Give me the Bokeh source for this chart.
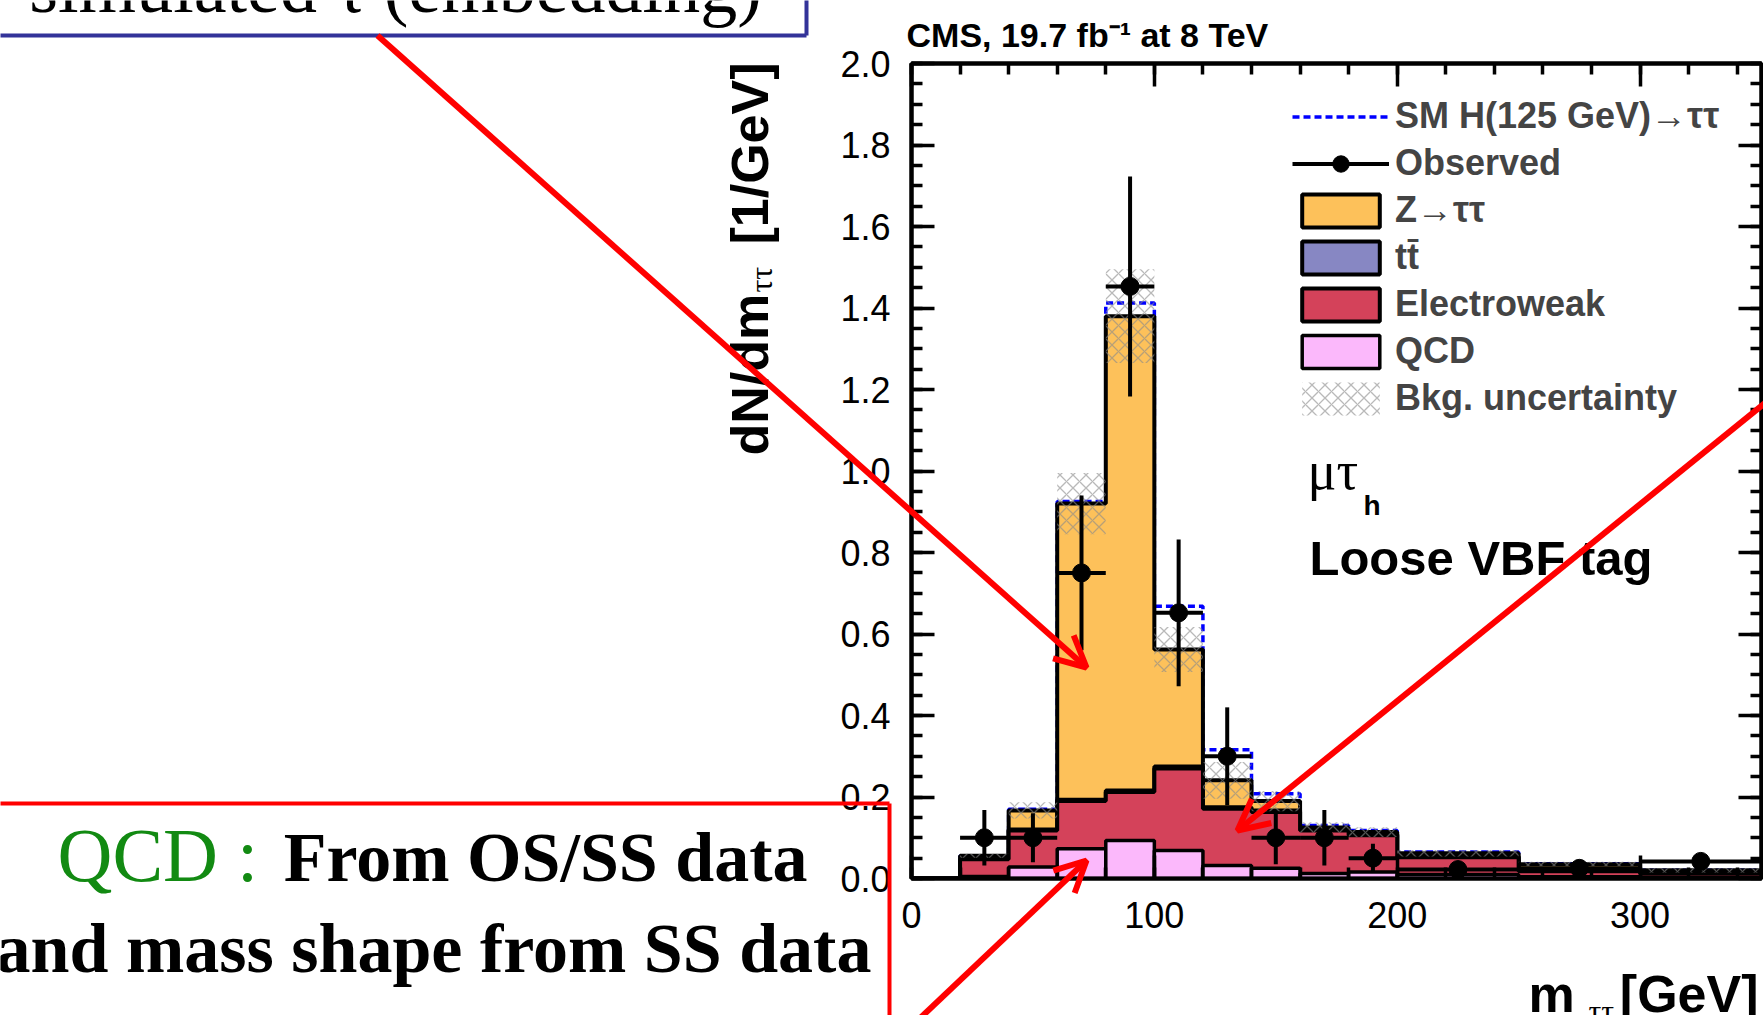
import numpy as np
from bokeh.plotting import figure
from bokeh.models import (Range1d, FixedTicker, LinearAxis, PrintfTickFormatter, Label,
                          Legend, LegendItem, CustomJSTickFormatter, Arrow, OpenHead)
from bokeh.embed import file_html
from bokeh.resources import INLINE

# ---------------- data ----------------
bin_edges = [0, 20, 40, 60, 80, 100, 120, 140, 160, 180, 200, 250, 300, 350]
qcd     = [0, 0.005, 0.028, 0.073, 0.093, 0.069, 0.032, 0.025, 0.012, 0.016, 0.010, 0.004, 0.003]
ewk     = [0, 0.042, 0.090, 0.117, 0.119, 0.201, 0.139, 0.138, 0.106, 0.090, 0.042, 0.014, 0.009]
ttbar   = [0, 0.000, 0.002, 0.003, 0.004, 0.005, 0.004, 0.004, 0.003, 0.003, 0.003, 0.002, 0.001]
ztt     = [0, 0.009, 0.047, 0.727, 1.164, 0.287, 0.066, 0.023, 0.004, 0.005, 0.007, 0.015, 0.007]
higgs   = [0, 0.000, 0.003, 0.005, 0.032, 0.106, 0.075, 0.018, 0.005, 0.004, 0.003, 0.001, 0.000]
bkg_unc = [0, 0.005, 0.020, 0.075, 0.115, 0.055, 0.045, 0.025, 0.013, 0.012, 0.008, 0.006, 0.005]

obs_centers = [30, 50, 70, 90, 110, 130, 150, 170, 190, 225, 275, 325]
obs_lo_edge = [20, 40, 60, 80, 100, 120, 140, 160, 180, 200, 250, 300]
obs_hi_edge = [40, 60, 80, 100, 120, 140, 160, 180, 200, 250, 300, 350]
observed    = [0.100, 0.100, 0.750, 1.453, 0.652, 0.300, 0.100, 0.100, 0.050, 0.022, 0.025, 0.042]
obs_err     = [0.068, 0.060, 0.190, 0.270, 0.180, 0.120, 0.065, 0.068, 0.035, 0.015, 0.012, 0.015]

y_ticks = [0.0, 0.2, 0.4, 0.6, 0.8, 1.0, 1.2, 1.4, 1.6, 1.8, 2.0]
x_ticks = [0, 100, 200, 300]

# ---------------- colours ----------------
Z_COL, TT_COL, EWK_COL, QCD_COL = "#FDC15A", "#8787C3", "#D4425A", "#FBB8FB"
RED, BLUEBOX, GREEN = "#FF0000", "#333399", "#128A12"

# ---------------- geometry of the page ----------------
W, H = 1763, 1015
FL, FR, FT, FB = 911, 1761, 63, 878
BASE_K = 0.36   # Label baseline correction (fraction of the font size)

p = figure(width=W, height=H, output_backend="svg", toolbar_location=None,
           x_range=Range1d(0, 350), y_range=Range1d(0, 2.0),
           min_border_left=FL, min_border_right=W - FR, min_border_top=FT,
           min_border_bottom=H - FB, x_axis_location=None, y_axis_location=None)
p.grid.visible = False
p.outline_line_color = "black"
p.outline_line_width = 4
p.background_fill_color = "white"
p.border_fill_color = "white"

y_minor = list(np.round(np.arange(0, 2.0001, 0.05), 3))
x_minor = list(range(0, 351, 20))


def make_axis(ticks, minor, fmt, show):
    ax = LinearAxis(ticker=FixedTicker(ticks=ticks, minor_ticks=minor),
                    major_tick_in=23, major_tick_out=0, minor_tick_in=11, minor_tick_out=0,
                    axis_line_width=4, major_tick_line_width=3.5, minor_tick_line_width=3.5,
                    major_label_text_font="Liberation Sans", major_label_text_color="black",
                    major_label_text_font_size="36px")
    if show:
        ax.formatter = PrintfTickFormatter(format=fmt)
    else:
        ax.formatter = CustomJSTickFormatter(code="return ''")
        ax.major_label_standoff = 0
    return ax


ax_l = make_axis(y_ticks, y_minor, "%.1f", True)
ax_l.major_label_standoff = 21
p.add_layout(ax_l, "left")
p.add_layout(make_axis(y_ticks, y_minor, "%.1f", False), "right")
ax_b = make_axis(x_ticks, x_minor, "%d", True)
ax_b.major_label_standoff = 23
p.add_layout(ax_b, "below")
p.add_layout(make_axis(x_ticks, x_minor, "%d", False), "above")

# ---------------- stacked histogram ----------------
edges = np.array(bin_edges, dtype=float)
left, right = edges[:-1], edges[1:]
c_q = np.array(qcd)
c_e = c_q + np.array(ewk)
c_t = c_e + np.array(ttbar)
c_z = c_t + np.array(ztt)
c_s = c_z + np.array(higgs)
unc = np.array(bkg_unc)


def step_line(vals):
    xs = list(edges) + [edges[-1]]
    ys = list(vals) + [vals[-1], 0.0]
    return xs, ys


def step_patch(vals):
    xs, ys = [edges[0]], [0.0]
    for i in range(len(vals)):
        xs += [edges[i], edges[i + 1]]
        ys += [vals[i], vals[i]]
    xs.append(edges[-1])
    ys.append(0.0)
    return xs, ys


sx_, sy_ = step_line(c_s)
sig_r = p.step(x=sx_, y=sy_, mode="after", line_color="#0000FF", line_width=3.5, line_dash="7 4")

layer_r = {}
for name, vals, col in (("z", c_z, Z_COL), ("t", c_t, TT_COL), ("e", c_e, EWK_COL)):
    xs, ys = step_patch(vals)
    layer_r[name] = p.patch(x=xs, y=ys, fill_color=col, line_color="black", line_width=4)
qcd_r = p.quad(left=left, right=right, bottom=0, top=c_q, fill_color=QCD_COL,
               line_color="black", line_width=3.5)

# background uncertainty band
unc_r = p.quad(left=left[1:], right=right[1:], bottom=(c_z - unc)[1:], top=(c_z + unc)[1:],
               fill_alpha=0, line_color=None, hatch_pattern="x", hatch_color="#8a8a8a",
               hatch_alpha=0.6, hatch_scale=13, hatch_weight=1.3)

# observed data
oc = np.array(obs_centers, dtype=float)
ov = np.array(observed)
oe = np.array(obs_err)
p.segment(x0=oc, y0=ov - oe, x1=oc, y1=ov + oe, line_color="black", line_width=4)
hbar = p.segment(x0=obs_lo_edge, y0=ov, x1=obs_hi_edge, y1=ov, line_color="black", line_width=4)
dots = p.scatter(x=oc, y=ov, size=18, color="black")

# ---------------- legend ----------------
legend = Legend(items=[
    LegendItem(label="SM H(125 GeV)\u2192\u03c4\u03c4", renderers=[sig_r]),
    LegendItem(label="Observed", renderers=[hbar, dots]),
    LegendItem(label="Z\u2192\u03c4\u03c4", renderers=[layer_r["z"]]),
    LegendItem(label="t\u0074\u0304", renderers=[layer_r["t"]]),
    LegendItem(label="Electroweak", renderers=[layer_r["e"]]),
    LegendItem(label="QCD", renderers=[qcd_r]),
    LegendItem(label="Bkg. uncertainty", renderers=[unc_r]),
], location=(1292 - FL, FB - 419), glyph_width=97, glyph_height=41, label_height=41,
    label_standoff=6, spacing=5, padding=0, margin=0, border_line_alpha=0,
    background_fill_alpha=0, label_text_font="Liberation Sans", label_text_font_size="36px",
    label_text_font_style="bold")
p.add_layout(legend)


def plab(text, X, Y, size, font="Liberation Sans", style="normal"):
    Y = Y - BASE_K * size
    p.add_layout(Label(x=X - FL, y=FB - Y, x_units="screen", y_units="screen", text=text,
                       text_font=font, text_font_size=f"{size}px", text_font_style=style,
                       text_color="black", text_baseline="alphabetic"))


plab("\u03bc\u03c4", 1307, 490, 54, font="Liberation Serif")
plab("h", 1363, 515, 28, style="bold")
plab("Loose VBF tag", 1309, 575, 49, style="bold")

# ---------------- overlay: page-level texts, boxes and arrows ----------------
q = figure(width=W, height=H, output_backend="svg", toolbar_location=None,
           x_range=Range1d(0, W), y_range=Range1d(H, 0), min_border=0,
           x_axis_location=None, y_axis_location=None)
q.grid.visible = False
q.outline_line_color = None
q.background_fill_alpha = 0
q.border_fill_alpha = 0
q.styles = {"position": "absolute", "left": "0px", "top": "0px"}
q.stylesheets = [":host { position: absolute !important; left: 0px !important; top: 0px !important; }"]


def lab(text, X, Y, size, font="Liberation Sans", style="normal", color="black",
        align="left", angle=0.0):
    if angle == 0.0:
        Y = Y - BASE_K * size
    q.add_layout(Label(x=X, y=Y, text=text, text_font=font, text_font_size=f"{size}px",
                       text_font_style=style, text_color=color, text_align=align,
                       text_baseline="alphabetic", angle=angle))


lab("CMS, 19.7 fb\u207b\u00b9 at 8 TeV", 906, 47, 34, style="bold")
# axis titles (ROOT style, aligned to the axis ends)
lab("dN/dm", 749, 455, 52, style="bold", angle=np.pi / 2)
lab("\u03c4\u03c4", 760, 292, 32, font="Liberation Serif", angle=np.pi / 2)
lab("[1/GeV]", 749, 62, 52, style="bold", align="right", angle=np.pi / 2)
lab("m", 1528, 1012, 52, style="bold")
lab("\u03c4\u03c4", 1588, 1022, 32, font="Liberation Serif")
lab("[GeV]", 1758, 1012, 52, style="bold", align="right")

# slide texts
lab("simulated \u03c4 (embedding)", 395, 13, 74, font="Liberation Serif", align="center")
lab("QCD :", 57, 882, 76, font="Liberation Serif", color=GREEN)
lab("From OS/SS data", 807, 882, 70, font="Liberation Serif", style="bold", align="right")
lab("and mass shape from SS data", 433, 973, 70, font="Liberation Serif", style="bold",
    align="center")

# boxes (blue box at the top, red box at the bottom)
q.segment(x0=[-10, 806], y0=[35, -10], x1=[806, 806], y1=[35, 35], line_color=BLUEBOX,
          line_width=4)
q.segment(x0=[-10, 889], y0=[803, 803], x1=[889, 889], y1=[803, 1030], line_color=RED,
          line_width=4)

# red arrows
for x0, y0, x1, y1 in ((377, 35, 1086, 667), (1770, 398, 1237, 830), (915, 1022, 1086, 860)):
    q.add_layout(Arrow(x_start=x0, y_start=y0, x_end=x1, y_end=y1, line_color=RED,
                       line_width=6, end=OpenHead(size=31, line_color=RED, line_width=6)))

open("out.html", "w").write(file_html([p, q], INLINE))
